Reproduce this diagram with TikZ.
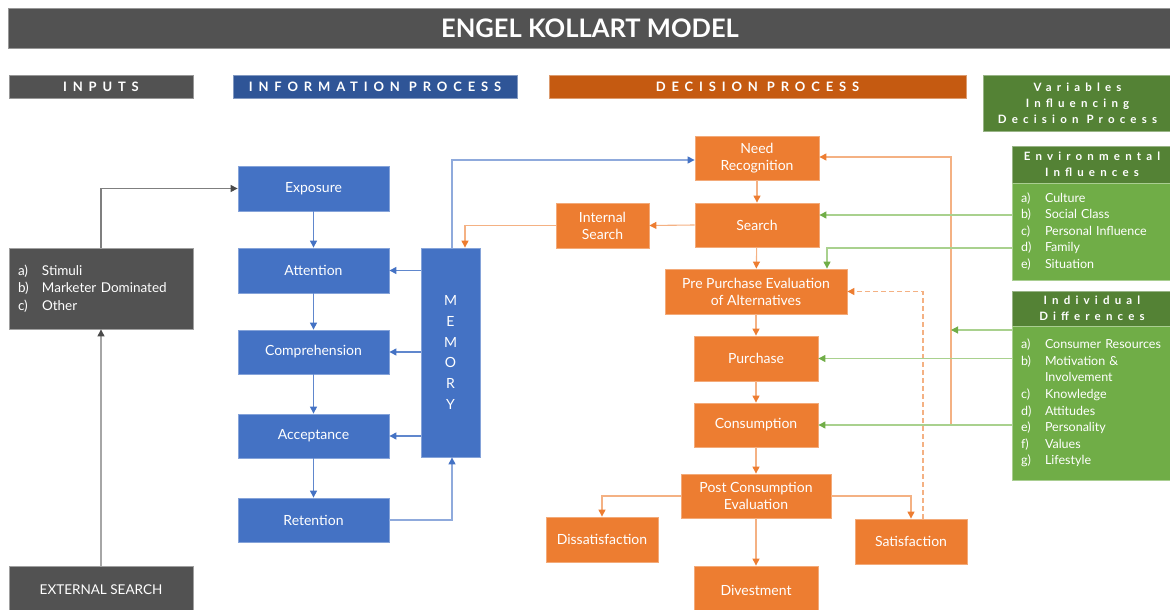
\documentclass[tikz,border=0pt]{standalone}
\usepackage{fontspec}
\setmainfont{Lato}
\usetikzlibrary{arrows.meta}

\definecolor{cgray}{HTML}{525252}
\definecolor{cblueH}{HTML}{2F5597}
\definecolor{corangeH}{HTML}{C55A11}
\definecolor{cgreenH}{HTML}{548235}
\definecolor{cblue}{HTML}{4472C4}
\definecolor{corange}{HTML}{ED7D31}
\definecolor{cgreen}{HTML}{70AD47}
\definecolor{lblue}{HTML}{8FAADC}
\definecolor{lorange}{HTML}{F4B183}
\definecolor{lgreen}{HTML}{A9D18E}
\definecolor{lgray}{HTML}{A6A6A6}
\definecolor{mgray}{HTML}{7F7F7F}

\tikzset{
  box/.style={rectangle, inner sep=2pt, align=center, text=white,
    font=\fontsize{14}{17}\selectfont, line width=0.8pt},
  bbox/.style={box, fill=cblue, draw=cblue!65!white},
  obox/.style={box, fill=corange, draw=corange!65!white},
  gbox/.style={box, fill=cgray, draw=cgray!55!white},
  dims/.style 2 args={minimum width=#1, minimum height=#2},
  spaced/.style={font=\bfseries\fontsize{#1}{16}\selectfont\addfontfeatures{LetterSpace=45}},
  headbar/.style={rectangle, inner sep=0pt, text=white, align=center, line width=0.8pt},
  listtext/.style={align=left, inner xsep=9pt, inner ysep=0pt},
  tipb/.style={-{Triangle[length=7pt,width=7pt,color=#1]}},
  conn/.style={line width=1.1pt},
  bline/.style={conn, draw=cblue!85!white, tipb=cblue},
  lbline/.style={conn, draw=lblue, tipb=cblue},
  oline/.style={conn, draw=lorange, tipb=corange},
  gline/.style={conn, draw=lgreen, tipb=cgreen},
  grline/.style={conn, draw=#1, tipb=cgray!90!black},
}

\begin{document}
\begin{tikzpicture}[x=1pt,y=-1pt]
\useasboundingbox (0,0) rectangle (1170,610);

% title bar
\node[headbar, fill=cgray, draw=cgray!60!white, dims={1164pt}{40pt},
  font=\bfseries\fontsize{25.5}{28}\selectfont] (title) at (590,28) {ENGEL KOLLART MODEL};

% column headings
\node[headbar, fill=cgray, draw=cgray!60!white, dims={184pt}{23pt}, spaced=13] (hin) at (101,86.5) {INPUTS};
\node[headbar, fill=cblueH, draw=cblueH!60!white, dims={284pt}{23pt}, spaced=13] (hinfo) at (375,86.5) {INFORMATION PROCESS};
\node[headbar, fill=corangeH, draw=corangeH!60!white, dims={417pt}{23pt}, spaced=13] (hdec) at (757.5,86.5) {DECISION PROCESS};
\node[headbar, fill=cgreenH, draw=cgreenH!60!white, dims={189pt}{56pt}, spaced=11.5] (hvar) at (1077.5,103) {Variables\\Influencing\\Decision Process};

% inputs
\node[gbox, dims={184pt}{81pt}, listtext, text width=166pt, font=\fontsize{13.5}{17.5}\selectfont] (inputs) at (101,288.5)
  {\makebox[24pt][l]{a)}Stimuli\\\makebox[24pt][l]{b)}Marketer Dominated\\\makebox[24pt][l]{c)}Other};
\node[gbox, dims={184pt}{48pt}, font=\fontsize{13.5}{16}\selectfont] (ext) at (101,590) {EXTERNAL SEARCH};

% information process
\node[bbox, dims={151pt}{45pt}] (expo) at (313.5,188.5) {Exposure};
\node[bbox, dims={151pt}{45pt}] (atte) at (313.5,270.5) {Attention};
\node[bbox, dims={151pt}{44pt}] (comp) at (313.5,352) {Comprehension};
\node[bbox, dims={151pt}{44pt}] (acce) at (313.5,436) {Acceptance};
\node[bbox, dims={151pt}{44pt}] (rete) at (313.5,520) {Retention};
\node[bbox, dims={59pt}{209pt}, font=\fontsize{14}{20.7}\selectfont] (mem) at (450.5,352.5) {M\\E\\M\\O\\R\\Y};

% decision process
\node[obox, dims={124pt}{44pt}] (need) at (757,158) {Need\\Recognition};
\node[obox, dims={93pt}{45pt}] (isearch) at (602.5,225.5) {Internal\\Search};
\node[obox, dims={124pt}{44pt}] (search) at (757,225) {Search};
\node[obox, dims={182pt}{45pt}] (pre) at (756,291.5) {Pre Purchase Evaluation\\of Alternatives};
\node[obox, dims={124pt}{45pt}] (purch) at (756,358.5) {Purchase};
\node[obox, dims={124pt}{44pt}] (cons) at (756,425) {Consumption};
\node[obox, dims={150pt}{44pt}] (post) at (756,496) {Post Consumption\\Evaluation};
\node[obox, dims={112pt}{45pt}] (dis) at (602,539.5) {Dissatisfaction};
\node[obox, dims={112pt}{45pt}] (sat) at (911,541.5) {Satisfaction};
\node[obox, dims={124pt}{48pt}] (div) at (756,590) {Divestment};

% influencing variables
\node[headbar, fill=cgreenH, draw=cgreenH!60!white, dims={160pt}{37pt}, spaced=11.5] (envh) at (1092,164.5) {Environmental\\Influences};
\node[box, fill=cgreen, draw=cgreen!60!white, dims={160pt}{97pt}, listtext, text width=142pt,
  font=\fontsize{12.5}{16.5}\selectfont] (envb) at (1092,231.5)
  {\makebox[24pt][l]{a)}Culture\\\makebox[24pt][l]{b)}Social Class\\\makebox[24pt][l]{c)}Personal Influence\\\makebox[24pt][l]{d)}Family\\\makebox[24pt][l]{e)}Situation};
\node[headbar, fill=cgreenH, draw=cgreenH!60!white, dims={160pt}{35pt}, spaced=11.5] (indh) at (1092,308.5) {Individual\\Differences};
\node[box, fill=cgreen, draw=cgreen!60!white, dims={160pt}{154pt}, listtext, text width=142pt,
  font=\fontsize{12.5}{16.6}\selectfont] (indb) at (1092,403)
  {\makebox[24pt][l]{a)}Consumer Resources\\\makebox[24pt][l]{b)}Motivation \&\\\makebox[24pt][l]{}Involvement\\\makebox[24pt][l]{c)}Knowledge\\\makebox[24pt][l]{d)}Attitudes\\\makebox[24pt][l]{e)}Personality\\\makebox[24pt][l]{f)}Values\\\makebox[24pt][l]{g)}Lifestyle};

% inputs connectors
\draw[grline=lgray] (ext.north) -- (inputs.south);
\draw[grline=mgray] (inputs.north) |- (expo.west);

% information chain
\draw[bline] (expo) -- (atte);
\draw[bline] (atte) -- (comp);
\draw[bline] (comp) -- (acce);
\draw[bline] (acce) -- (rete);
\draw[bline] (mem.west |- atte.east) -- (atte.east);
\draw[bline] (mem.west |- comp.east) -- (comp.east);
\draw[bline] (mem.west |- acce.east) -- (acce.east);
\draw[lbline] (rete.east) -| ([xshift=1.5pt]mem.south);
\draw[lbline] ([xshift=1.5pt]mem.north) |- ([yshift=-2pt]need.west);

% decision chain
\draw[oline] (need) -- (search);
\draw[oline] (search.west) -- (isearch.east);
\draw[oline] (isearch.west) -| ([xshift=14.5pt]mem.north);
\draw[oline] (search) -- (pre);
\draw[oline] (pre) -- (purch);
\draw[oline] (purch) -- (cons);
\draw[oline] (cons) -- (post);
\draw[oline] (post) -- (div);
\draw[oline] (post.west) -| (dis.north);
\draw[oline] (post.east) -| (sat.north);
\draw[oline, dashed, dash pattern=on 5pt off 3pt] ([xshift=12pt]sat.north) |- (pre.east);

% feedback from consumption to need recognition
\coordinate (fb) at (951,425);
\coordinate (fbin) at (951,330);
\draw[oline] (fb) |- ([yshift=1pt]need.east);

% influence connectors
\draw[gline] ([yshift=10pt]search.east -| envb.west) -- ([yshift=10pt]search.east);
\draw[gline] ([yshift=-16.5pt]envb.west) -| ([xshift=71pt]pre.north);
\draw[gline] (fbin -| indb.west) -- (fbin);
\draw[gline] (indb.west |- purch.east) -- (purch.east);
\draw[gline] (indb.west |- cons.east) -- (cons.east);
\end{tikzpicture}
\end{document}
